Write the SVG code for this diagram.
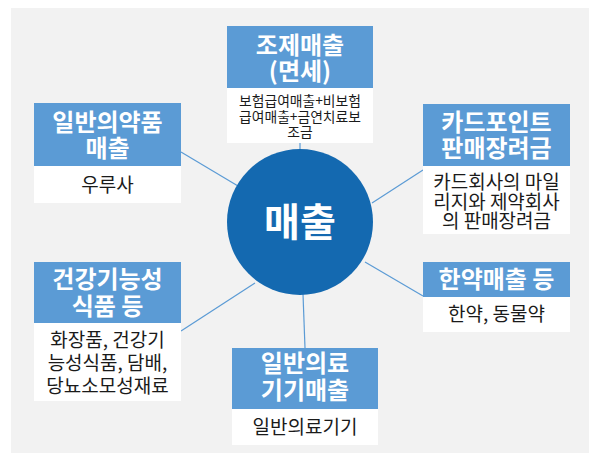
<svg xmlns="http://www.w3.org/2000/svg" width="589" height="453" viewBox="0 0 589 453">
<style>
.hd{fill:#5b9bd5}
.bd{fill:#ffffff}
.ht{font-family:"Noto Sans CJK KR","Liberation Sans",sans-serif;font-weight:bold;font-size:24px;fill:#ffffff;text-anchor:middle}
.bt{font-family:"Noto Sans CJK KR","Liberation Sans",sans-serif;font-size:19px;fill:#1a1a1a;text-anchor:middle}
.st{font-family:"Noto Sans CJK KR","Liberation Sans",sans-serif;font-size:13.8px;fill:#1a1a1a;text-anchor:middle}
.cn{stroke:#5b9bd5;stroke-width:1.2;fill:none}
</style>
<rect x="0" y="0" width="589" height="453" fill="#ffffff"/>
<rect x="11" y="8" width="578" height="445" fill="#f2f2f2"/>
<g id="connectors">
<line class="cn" x1="300" y1="143" x2="300" y2="150"/>
<line class="cn" x1="181" y1="152" x2="238" y2="186"/>
<line class="cn" x1="423" y1="170" x2="372" y2="203"/>
<line class="cn" x1="423" y1="296" x2="365" y2="262"/>
<line class="cn" x1="181" y1="331" x2="255" y2="283"/>
<line class="cn" x1="303" y1="294" x2="305" y2="348"/>
</g>
<g id="center">
<circle cx="300" cy="222" r="73" fill="#1469b0"/>
<text x="300" y="236" font-family="'Noto Sans CJK KR','Liberation Sans',sans-serif" font-weight="bold" font-size="39" fill="#ffffff" text-anchor="middle">매출</text>
</g>
<g id="node-top">
<rect class="hd" x="227" y="26" width="146" height="62"/>
<rect class="bd" x="227" y="88" width="146" height="55"/>
<text class="ht" x="300" y="54">조제매출</text>
<text class="ht" x="300" y="80">(면세)</text>
<text class="st" x="300" y="106">보험급여매출+비보험</text>
<text class="st" x="300" y="122">급여매출+금연치료보</text>
<text class="st" x="300" y="137">조금</text>
</g>
<g id="node-left-top">
<rect class="hd" x="34" y="103" width="147" height="63"/>
<rect class="bd" x="34" y="166" width="147" height="37"/>
<text class="ht" x="107.5" y="131">일반의약품</text>
<text class="ht" x="107.5" y="157">매출</text>
<text class="bt" x="107.5" y="192">우루사</text>
</g>
<g id="node-right-top">
<rect class="hd" x="423" y="104" width="147" height="62"/>
<rect class="bd" x="423" y="166" width="147" height="68"/>
<text class="ht" x="496.5" y="131">카드포인트</text>
<text class="ht" x="496.5" y="157">판매장려금</text>
<text class="bt" x="496.5" y="189">카드회사의 마일</text>
<text class="bt" x="496.5" y="209">리지와 제약회사</text>
<text class="bt" x="496.5" y="228">의 판매장려금</text>
</g>
<g id="node-right">
<rect class="hd" x="423" y="262" width="147" height="35"/>
<rect class="bd" x="423" y="297" width="147" height="35"/>
<text class="ht" x="496.5" y="288">한약매출 등</text>
<text class="bt" x="496.5" y="321">한약, 동물약</text>
</g>
<g id="node-left-bottom">
<rect class="hd" x="34" y="262" width="147" height="61"/>
<rect class="bd" x="34" y="323" width="147" height="78"/>
<text class="ht" x="107.5" y="288">건강기능성</text>
<text class="ht" x="107.5" y="315">식품 등</text>
<text class="bt" x="107.5" y="347">화장품, 건강기</text>
<text class="bt" x="107.5" y="370">능성식품, 담배,</text>
<text class="bt" x="107.5" y="393">당뇨소모성재료</text>
</g>
<g id="node-bottom">
<rect class="hd" x="232" y="348" width="146" height="61"/>
<rect class="bd" x="232" y="409" width="146" height="36"/>
<text class="ht" x="305" y="372">일반의료</text>
<text class="ht" x="305" y="399">기기매출</text>
<text class="bt" x="305" y="434">일반의료기기</text>
</g>
</svg>
